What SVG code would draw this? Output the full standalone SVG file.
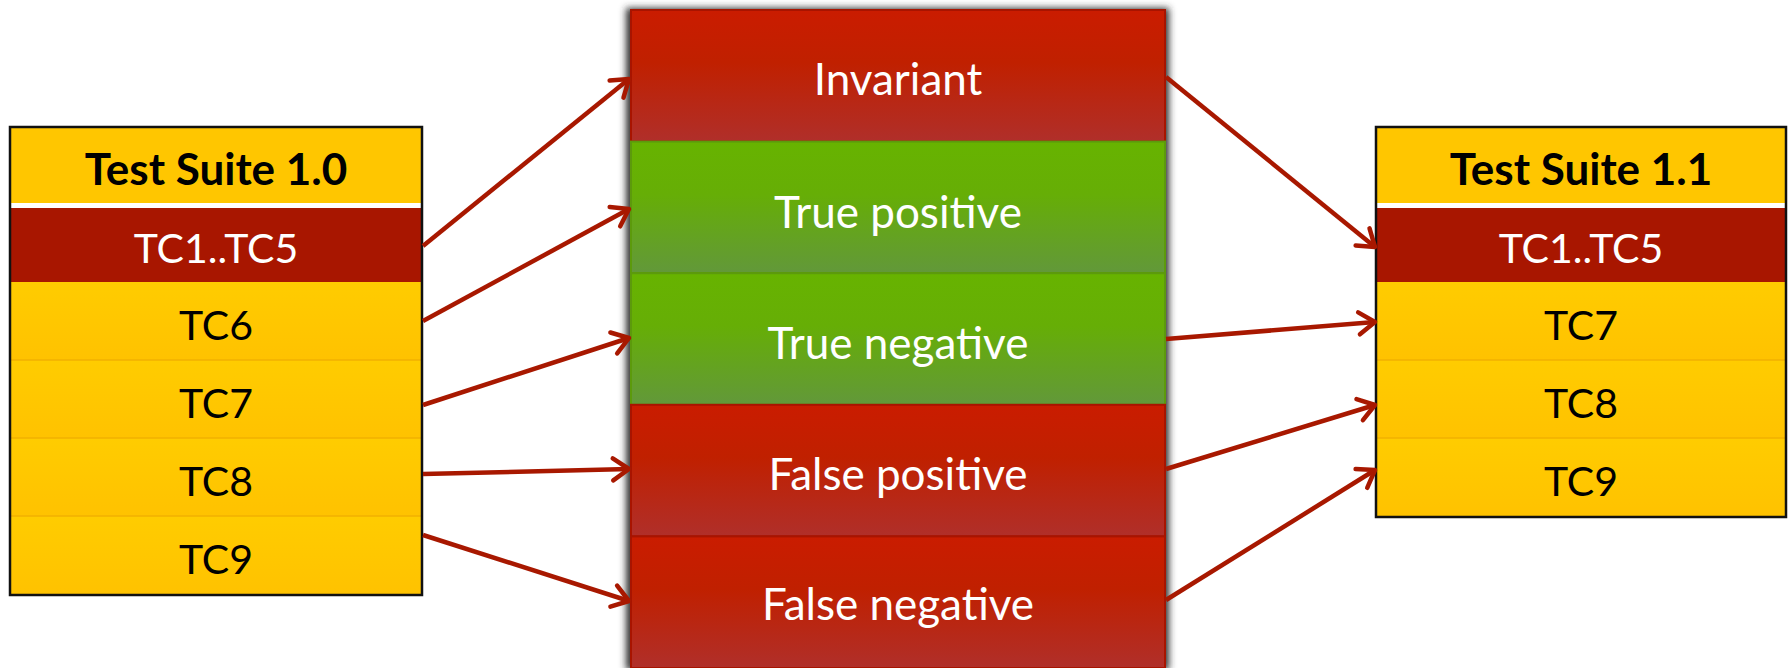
<svg xmlns="http://www.w3.org/2000/svg" width="1788" height="668" viewBox="0 0 1788 668">
  <style>
    .lbl { font-family: Lato, "Open Sans", "Liberation Sans", sans-serif; text-anchor: middle; }
    .head { font-weight: 700; font-size: 44px; fill: #000; }
    .tc { font-size: 41px; fill: #000; }
    .tcw { font-size: 41px; fill: #fff; }
    .cat { font-size: 44px; fill: #fff; }
    .frame { fill: none; stroke: #111; stroke-width: 2.5; }
    .sep { stroke: #F2B000; stroke-width: 1.5; }
    .conn { fill: none; stroke: #A81800; stroke-width: 4.5; marker-end: url(#arrow); }
    .redbox { fill: url(#gRed); stroke: #A81400; stroke-width: 2; }
    .greenbox { fill: url(#gGreen); stroke: #5C9A0C; stroke-width: 2; }
  </style>
  <defs>
    <linearGradient id="gRed" x1="0" y1="0" x2="0" y2="1">
      <stop offset="0" stop-color="#CA1C00"/>
      <stop offset="0.4" stop-color="#C02000"/>
      <stop offset="1" stop-color="#B02F2A"/>
    </linearGradient>
    <linearGradient id="gGreen" x1="0" y1="0" x2="0" y2="1">
      <stop offset="0" stop-color="#67B300"/>
      <stop offset="0.4" stop-color="#66AE06"/>
      <stop offset="1" stop-color="#62983A"/>
    </linearGradient>
    <linearGradient id="gRow" x1="0" y1="0" x2="0" y2="1">
      <stop offset="0" stop-color="#FFCC00"/>
      <stop offset="1" stop-color="#FFC200"/>
    </linearGradient>
    <filter id="shadow" x="-10%" y="-10%" width="120%" height="120%">
      <feGaussianBlur stdDeviation="3.5"/>
    </filter>
    <marker id="arrow" markerUnits="userSpaceOnUse" markerWidth="30" markerHeight="30" refX="21" refY="15" orient="auto">
      <path d="M5,4 L21,15 L5,26" fill="none" stroke="#A81800" stroke-width="4.5" stroke-linecap="round" stroke-linejoin="round"/>
    </marker>
  </defs>

  <!-- Test Suite 1.0 -->
  <g id="suite-1-0">
    <rect x="10" y="127" width="412" height="76" fill="#FFC600"/>
    <rect x="10" y="203" width="412" height="5" fill="#FFFFFF"/>
    <rect x="10" y="208" width="412" height="74" fill="#A81600"/>
    <rect x="10" y="282" width="412" height="78" fill="url(#gRow)"/>
    <rect x="10" y="360" width="412" height="78" fill="url(#gRow)"/>
    <rect x="10" y="438" width="412" height="78" fill="url(#gRow)"/>
    <rect x="10" y="516" width="412" height="79" fill="url(#gRow)"/>
    <line class="sep" x1="10" y1="360" x2="422" y2="360"/>
    <line class="sep" x1="10" y1="438" x2="422" y2="438"/>
    <line class="sep" x1="10" y1="516" x2="422" y2="516"/>
    <rect class="frame" x="10" y="127" width="412" height="468"/>
    <text class="lbl head" x="216" y="185">Test Suite 1.0</text>
    <text class="lbl tcw" x="216" y="263">TC1..TC5</text>
    <text class="lbl tc" x="216" y="340">TC6</text>
    <text class="lbl tc" x="216" y="418">TC7</text>
    <text class="lbl tc" x="216" y="496">TC8</text>
    <text class="lbl tc" x="216" y="574">TC9</text>
  </g>

  <!-- Classification column -->
  <g id="categories">
    <rect x="626" y="8" width="543" height="662" fill="#333" filter="url(#shadow)"/>
    <g id="invariant">
      <rect class="redbox" x="631" y="10" width="534" height="131.6"/>
      <text class="lbl cat" x="898" y="95">Invariant</text>
    </g>
    <g id="true-positive">
      <rect class="greenbox" x="631" y="141.6" width="534" height="131.6"/>
      <text class="lbl cat" x="898" y="228">True positive</text>
    </g>
    <g id="true-negative">
      <rect class="greenbox" x="631" y="273.2" width="534" height="131.6"/>
      <text class="lbl cat" x="898" y="359">True negative</text>
    </g>
    <g id="false-positive">
      <rect class="redbox" x="631" y="404.8" width="534" height="131.6"/>
      <text class="lbl cat" x="898" y="490">False positive</text>
    </g>
    <g id="false-negative">
      <rect class="redbox" x="631" y="536.4" width="534" height="131.6"/>
      <text class="lbl cat" x="898" y="620">False negative</text>
    </g>
  </g>

  <!-- Test Suite 1.1 -->
  <g id="suite-1-1">
    <rect x="1376" y="127" width="410" height="76" fill="#FFC600"/>
    <rect x="1376" y="203" width="410" height="5" fill="#FFFFFF"/>
    <rect x="1376" y="208" width="410" height="74" fill="#A81600"/>
    <rect x="1376" y="282" width="410" height="78" fill="url(#gRow)"/>
    <rect x="1376" y="360" width="410" height="78" fill="url(#gRow)"/>
    <rect x="1376" y="438" width="410" height="79" fill="url(#gRow)"/>
    <line class="sep" x1="1376" y1="360" x2="1786" y2="360"/>
    <line class="sep" x1="1376" y1="438" x2="1786" y2="438"/>
    <rect class="frame" x="1376" y="127" width="410" height="390"/>
    <text class="lbl head" x="1581" y="185">Test Suite 1.1</text>
    <text class="lbl tcw" x="1581" y="263">TC1..TC5</text>
    <text class="lbl tc" x="1581" y="340">TC7</text>
    <text class="lbl tc" x="1581" y="418">TC8</text>
    <text class="lbl tc" x="1581" y="496">TC9</text>
  </g>

  <!-- Connectors -->
  <g id="connectors">
    <line class="conn" x1="423" y1="246" x2="629" y2="79"/>
    <line class="conn" x1="423" y1="321" x2="629" y2="209"/>
    <line class="conn" x1="423" y1="405" x2="629" y2="338"/>
    <line class="conn" x1="423" y1="474" x2="629" y2="469"/>
    <line class="conn" x1="423" y1="535" x2="629" y2="601"/>
    <line class="conn" x1="1166" y1="77" x2="1375" y2="247"/>
    <line class="conn" x1="1166" y1="339" x2="1375" y2="322"/>
    <line class="conn" x1="1166" y1="469" x2="1375" y2="405"/>
    <line class="conn" x1="1166" y1="600" x2="1375" y2="470"/>
  </g>
</svg>
